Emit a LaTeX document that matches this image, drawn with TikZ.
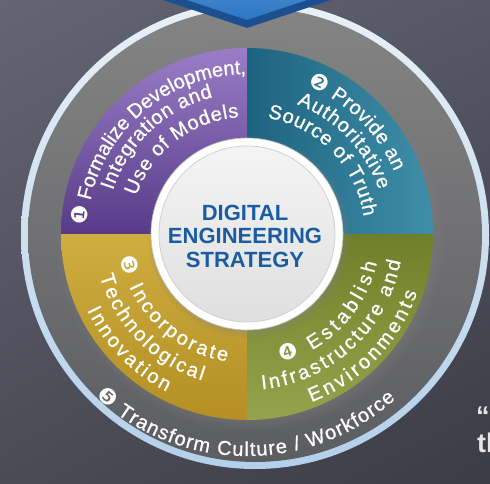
\documentclass[tikz,border=0pt]{standalone}
\usepackage{fontspec}
\setmainfont{Liberation Sans}
\newfontfamily\numf{DejaVu Sans}
\newfontfamily\medf[FakeBold=0.8]{Liberation Sans}
\usetikzlibrary{decorations.text,shadows,fadings,shadings}
\definecolor{bgUL}{HTML}{646572}
\definecolor{bgUR}{HTML}{575866}
\definecolor{bgLL}{HTML}{4A4B55}
\definecolor{bgLR}{HTML}{3B3C45}
\definecolor{ringT}{HTML}{E9F0F7}
\definecolor{ringB}{HTML}{B3D0EA}
\definecolor{grayT}{HTML}{848484}
\definecolor{grayB}{HTML}{5C5D61}
\definecolor{puT}{HTML}{9A7DC6}
\definecolor{puB}{HTML}{583B88}
\definecolor{teL}{HTML}{1D6380}
\definecolor{teR}{HTML}{3F8EA8}
\definecolor{goT}{HTML}{CFAD3F}
\definecolor{goB}{HTML}{B38F24}
\definecolor{olT}{HTML}{6F7E28}
\definecolor{olB}{HTML}{95A44C}
\definecolor{ctrblue}{HTML}{1A5CA4}
\definecolor{blTop}{HTML}{2C76C4}
\definecolor{blSide}{HTML}{1B4F8F}
\definecolor{qt}{HTML}{E6E6E6}
\definecolor{discT}{HTML}{F4F4F4}
\definecolor{discB}{HTML}{DFDFDF}
\newcommand\wt{\fontsize{20}{24}\selectfont\medf\color{white}}
\newcommand\nn{\fontsize{22}{24}\selectfont\numf\color{white}}
\tikzset{
  arctext/.style={decorate, decoration={text along path, text align={fit to path}, text={#1}}},
}
\begin{document}
\begin{tikzpicture}[x=1pt,y=1pt]
\useasboundingbox (0,0) rectangle (490,483);
\clip (0,0) rectangle (490,483);
% background
\shade[upper left=bgUL, upper right=bgUR, lower left=bgLL, lower right=bgLR] (0,0) rectangle (490,483);
% outer ring and gray band
\begin{scope}[shift={(255,248)}]
  \shade[top color=ringT, bottom color=ringB] (0,0) circle[radius=234pt];
  \shade[top color=grayT, bottom color=grayB] (0,0) circle[radius=227pt];
\end{scope}
\begin{scope}[shift={(247,249)}]
  % shadow of colored disc
  \path[circular drop shadow={shadow xshift=3pt, shadow yshift=-3pt, shadow scale=1.05, opacity=.7}] (0,0) circle[radius=186pt];
  % quadrants
  \shade[top color=puT, bottom color=puB] (0,0) -- (180:186pt) arc[start angle=180, end angle=90, radius=186pt] -- cycle;
  \shade[left color=teL, right color=teR] (0,0) -- (90:186pt) arc[start angle=90, end angle=0, radius=186pt] -- cycle;
  \shade[top color=goT, bottom color=goB] (0,0) -- (270:186pt) arc[start angle=270, end angle=180, radius=186pt] -- cycle;
  \shade[top color=olT, bottom color=olB] (0,0) -- (0:186pt) arc[start angle=0, end angle=-90, radius=186pt] -- cycle;
  % center disc
  \fill[white, circular drop shadow={shadow xshift=2pt, shadow yshift=-3pt, shadow scale=1.06, opacity=.6}] (0,0) circle[radius=96pt];
  \shade[top color=discT, bottom color=discB] (0,0) circle[radius=88pt];
  \draw[black!18, line width=.8pt] (0,0) circle[radius=88pt];
  \draw[black!25, line width=.6pt] (0,0) circle[radius=96pt];
  % quadrant 1
  \path[arctext={|\nn|❶|\wt| Formalize Development,}] (177:160pt) arc[start angle=177, end angle=91, radius=160pt];
  \path[arctext={|\wt|Integration and}] (162:141pt) arc[start angle=162, end angle=104, radius=141pt];
  \path[arctext={|\wt|Use of Models}] (161:117pt) arc[start angle=161, end angle=94, radius=117pt];
  % quadrant 2
  \path[arctext={|\nn|❷|\wt| Provide an}] (68:160pt) arc[start angle=68, end angle=23, radius=160pt];
  \path[arctext={|\wt|Authoritative}] (69:139pt) arc[start angle=69, end angle=18.5, radius=139pt];
  \path[arctext={|\wt|Source of Truth}] (80:118pt) arc[start angle=80, end angle=8.5, radius=118pt];
  % quadrant 3
  \path[arctext={|\nn|❸|\wt| Incorporate}] (190.5:129pt) arc[start angle=190.5, end angle=261, radius=129pt];
  \path[arctext={|\wt|Technological}] (196:153pt) arc[start angle=196, end angle=253, radius=153pt];
  \path[arctext={|\wt|Innovation}] (205.5:177pt) arc[start angle=205.5, end angle=243, radius=177pt];
  % quadrant 4
  \path[arctext={|\nn|❹|\wt| Establish}] (285:133pt) arc[start angle=285, end angle=347.5, radius=133pt];
  \path[arctext={|\wt|Infrastructure and}] (275.5:156pt) arc[start angle=275.5, end angle=350, radius=156pt];
  \path[arctext={|\wt|Environments}] (291:180pt) arc[start angle=291, end angle=341, radius=180pt];
  % outer band
  \path[arctext={|\nn|❺|\wt| Transform Culture / Workforce}] (227:222pt) arc[start angle=227, end angle=312, radius=222pt];
  % center text
  \node[font=\bfseries\fontsize{22}{23.5}\selectfont, text=ctrblue, align=center] (ctr) at (-2,-2) {DIGITAL\\ENGINEERING\\STRATEGY};
\end{scope}
% blue shape at top
\fill[blSide] (112,500) -- (247,455) -- (382,500) -- cycle;
\shade[top color=blTop!85!white, bottom color=blTop] (136,500) -- (247,463) -- (358,500) -- cycle;
% cut-off text at right edge
\node[anchor=base west, inner sep=0pt, font=\bfseries\fontsize{27}{30}\selectfont, text=qt] (quote) at (476,58) {“};
\node[anchor=base west, inner sep=0pt, font=\bfseries\fontsize{27}{30}\selectfont, text=qt] (th) at (477,31) {th};
\end{tikzpicture}
\end{document}
